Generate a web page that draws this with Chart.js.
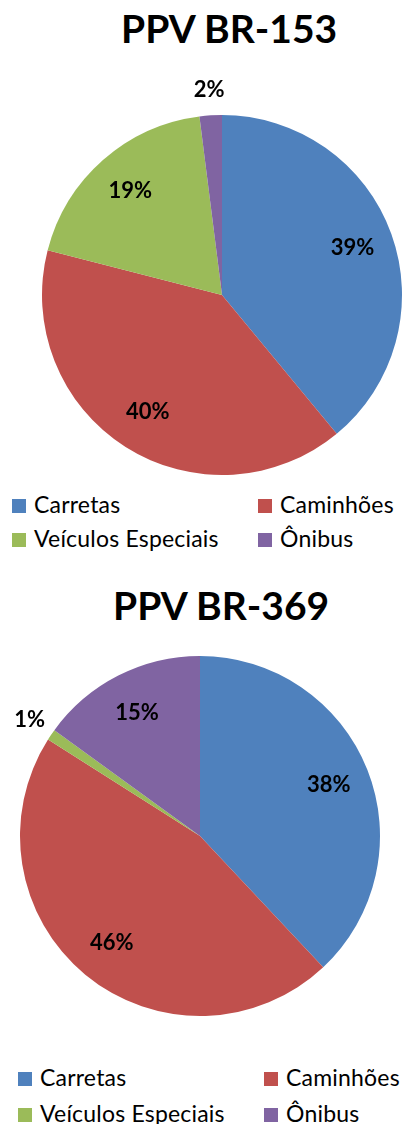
<!DOCTYPE html>
<html>
<head>
<meta charset="utf-8">
<script src="https://cdn.jsdelivr.net/npm/chart.js@4"></script>
<style>
  html, body { margin:0; padding:0; background:#fff; }
  body { width:405px; height:1124px; position:relative; overflow:hidden; font-family: Lato, "Open Sans", sans-serif; }
  .title { position:absolute; font-weight:bold; font-size:39px; line-height:39px; color:#000; white-space:nowrap; }
  .leg { position:absolute; font-size:23px; line-height:23px; letter-spacing:0.2px; color:#000; white-space:nowrap; }
  .leg span.sw { display:inline-block; width:14px; height:14px; margin-right:8px; vertical-align:0px; }
  canvas { position:absolute; }
</style>
</head>
<body>
<div class="title" id="t1" style="left:121px; top:9px;"></div>
<div class="title" id="t2" style="left:113px; top:586px;"></div>
<div style="position:absolute; left:0; top:0; width:405px; height:480px;"><canvas id="c1"></canvas></div>
<div style="position:absolute; left:0; top:560px; width:405px; height:480px;"><canvas id="c2"></canvas></div>
<div id="leg1"></div>
<div id="leg2"></div>
<script>
const categories = ["Carretas", "Caminhões", "Veículos Especiais", "Ônibus"];
const colors = ["#4F81BD", "#C0504D", "#9BBB59", "#8064A2"];
const titles = ["PPV BR-153", "PPV BR-369"];
const valuesBR153 = [39, 40, 19, 2];
const valuesBR369 = [38, 46, 1, 15];

document.getElementById('t1').textContent = titles[0];
document.getElementById('t2').textContent = titles[1];

const pctLabels = {
  id: 'pctLabels',
  afterDatasetsDraw(chart) {
    const ctx = chart.ctx;
    const meta = chart.getDatasetMeta(0);
    const data = chart.data.datasets[0].data;
    const total = data.reduce((a, b) => a + b, 0);
    ctx.save();
    ctx.font = 'bold 22px Lato, "Open Sans", sans-serif';
    ctx.fillStyle = '#000';
    ctx.textAlign = 'center';
    ctx.textBaseline = 'middle';
    meta.data.forEach((arc, i) => {
      const p = arc.getProps(['x','y','startAngle','endAngle','outerRadius']);
      const mid = (p.startAngle + p.endAngle) / 2;
      const frac = data[i] / total;
      const r = frac < 0.05 ? p.outerRadius + 26 : p.outerRadius * 0.77;
      ctx.fillText(Math.round(frac * 100) + '%', p.x + Math.cos(mid) * r, p.y + Math.sin(mid) * r);
    });
    ctx.restore();
  }
};

function makePie(id, values, pad) {
  return new Chart(document.getElementById(id), {
    type: 'pie',
    data: { labels: categories, datasets: [{ data: values, backgroundColor: colors, borderWidth: 0 }] },
    options: {
      responsive: true, maintainAspectRatio: false, animation: false,
      layout: { padding: pad },
      plugins: { legend: { display: false }, title: { display: false }, tooltip: { enabled: false } }
    },
    plugins: [pctLabels]
  });
}
makePie('c1', valuesBR153, { left: 42, right: 3, top: 115, bottom: 5 });
makePie('c2', valuesBR369, { left: 20, right: 25, top: 96, bottom: 24 });

function makeLegend(elId, pos) {
  const el = document.getElementById(elId);
  categories.forEach((c, i) => {
    const d = document.createElement('div');
    d.className = 'leg';
    d.style.left = pos[i][0] + 'px';
    d.style.top = pos[i][1] + 'px';
    const sw = document.createElement('span');
    sw.className = 'sw';
    sw.style.background = colors[i];
    d.appendChild(sw);
    d.appendChild(document.createTextNode(c));
    el.appendChild(d);
  });
}
makeLegend('leg1', [[12, 493], [258, 493], [12, 527], [258, 527]]);
makeLegend('leg2', [[18, 1066], [264, 1066], [18, 1102], [264, 1102]]);
</script>
</body>
</html>
